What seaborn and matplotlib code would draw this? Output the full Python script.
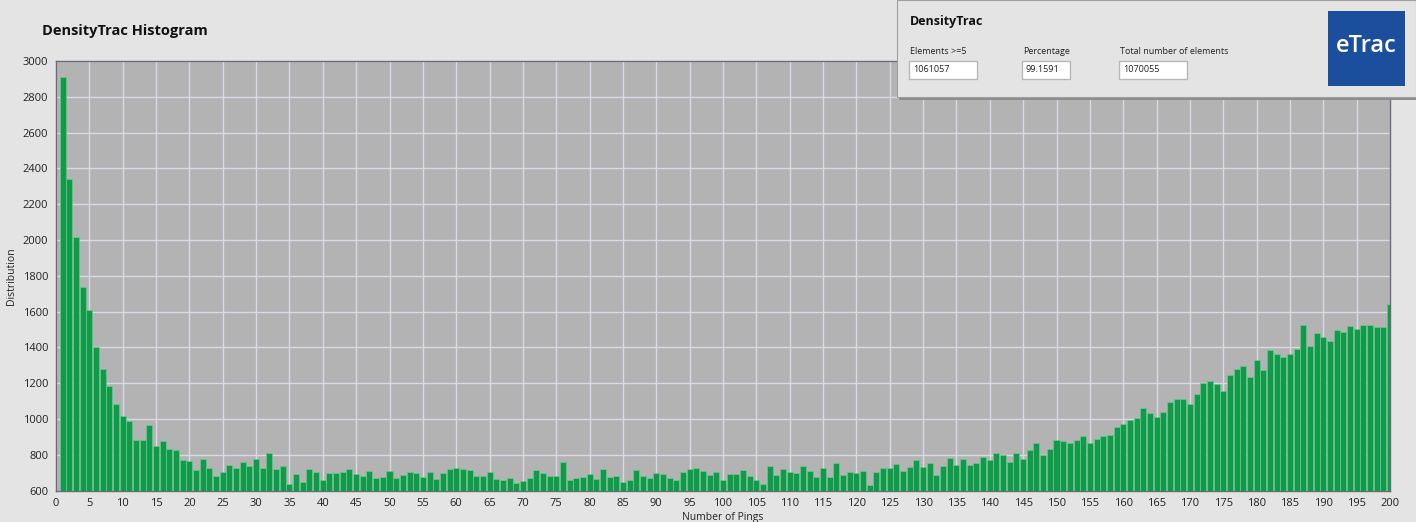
import matplotlib
matplotlib.use("Agg")
import matplotlib.pyplot as plt
from matplotlib.patches import Rectangle
import seaborn as sns
import numpy as np
import pandas as pd

# ---------------- data ----------------
pings = list(range(1, 201))
counts = [
    2910, 2341, 2015, 1740, 1611, 1404, 1280, 1183, 1082, 1017,
    991, 885, 885, 967, 851, 879, 831, 825, 769, 764,
    715, 779, 727, 680, 706, 741, 727, 760, 736, 775,
    727, 810, 721, 736, 639, 691, 650, 721, 706, 660,
    700, 697, 707, 721, 692, 680, 712, 669, 675, 712,
    669, 688, 703, 697, 675, 707, 665, 697, 721, 727,
    721, 716, 684, 684, 707, 665, 660, 671, 641, 654,
    669, 716, 697, 684, 684, 763, 660, 669, 679, 692,
    665, 721, 677, 680, 650, 660, 716, 680, 671, 699,
    693, 671, 660, 707, 721, 727, 712, 688, 707, 660,
    693, 693, 716, 680, 660, 636, 738, 688, 721, 707,
    699, 738, 712, 674, 725, 674, 755, 686, 706, 701,
    708, 630, 702, 725, 725, 747, 712, 730, 771, 730,
    753, 689, 736, 784, 742, 775, 745, 755, 786, 771,
    812, 801, 761, 810, 779, 825, 864, 799, 834, 885,
    879, 864, 881, 905, 864, 886, 905, 909, 955, 970,
    994, 1006, 1061, 1035, 1011, 1041, 1097, 1112, 1112, 1082,
    1140, 1201, 1214, 1197, 1158, 1244, 1279, 1294, 1234, 1331,
    1275, 1385, 1365, 1344, 1365, 1391, 1527, 1409, 1482, 1456,
    1435, 1497, 1486, 1521, 1501, 1527, 1527, 1512, 1515, 1642,
]
y_ticks = list(range(600, 3001, 200))
x_ticks = list(range(0, 201, 5))

title_text = "DensityTrac Histogram"
x_label = "Number of Pings"
y_label = "Distribution"

panel_title = "DensityTrac"
field_labels = ["Elements >=5", "Percentage", "Total number of elements"]
field_values = ["1061057", "99.1591", "1070055"]
logo_text = "eTrac"

# ---------------- style ----------------
sns.set_style("white")
plt.rcParams["font.family"] = ["Open Sans", "DejaVu Sans"]

W, H = 1416, 522
fig = plt.figure(figsize=(W / 100, H / 100), dpi=100)
fig.patch.set_facecolor("#e4e4e4")


def fx(px):
    return px / W


def fy(py):
    return 1 - py / H


# plot area in pixel coords
left, right, top, bottom = 56, 1390, 61, 490.7
ax = fig.add_axes([fx(left), fy(bottom), fx(right - left), (bottom - top) / H])
ax.set_facecolor("#b3b3b3")

df = pd.DataFrame({"pings": pings, "counts": counts})
sns.barplot(data=df, x="pings", y="counts", native_scale=True, width=0.9,
            color="#109a4a", saturation=1, edgecolor="#6cc98f", linewidth=0.5,
            ax=ax, zorder=3)

ax.set_xlim(0, 200)
ax.set_ylim(600, 3000)
ax.set_xticks(x_ticks)
ax.set_xticklabels([str(t) for t in x_ticks])
ax.set_yticks(y_ticks)
ax.set_yticklabels([str(t) for t in y_ticks])
ax.grid(True, color="#dadae6", linewidth=1.0, zorder=0)
ax.set_axisbelow(True)
for s in ax.spines.values():
    s.set_color("#6e6878")
    s.set_linewidth(1.0)
ax.tick_params(axis="both", direction="out", length=4, width=1,
               color="#555555", labelsize=8, labelcolor="#222222", pad=1.5)
ax.set_xlabel(x_label, fontsize=7.5, color="#222222", labelpad=2)
ax.set_ylabel(y_label, fontsize=7.5, color="#222222", labelpad=4)

fig.text(fx(42), fy(31), title_text, fontsize=10.5, fontweight="bold",
         color="#111111", ha="left", va="center")

# ---------------- info panel ----------------
fig.add_artist(Rectangle((fx(899), fy(100)), fx(W - 899), 100 / H,
                         transform=fig.transFigure, facecolor="#8c8c8c",
                         edgecolor="none", zorder=10))
fig.add_artist(Rectangle((fx(897), fy(97)), fx(W - 897), 97 / H,
                         transform=fig.transFigure, facecolor="#e4e4e4",
                         edgecolor="#a0a0a0", linewidth=0.8, zorder=11))
fig.text(fx(910), fy(22), panel_title, fontsize=9, fontweight="bold",
         color="#111111", ha="left", va="center", zorder=12)

label_x = [910, 1023, 1120]
box_w = [68, 48, 68]
for lx, lab, val, bw in zip(label_x, field_labels, field_values, box_w):
    fig.text(fx(lx), fy(51), lab, fontsize=6.5, color="#222222",
             ha="left", va="center", zorder=12)
    fig.add_artist(Rectangle((fx(lx - 1), fy(79)), fx(bw), 18 / H,
                             transform=fig.transFigure, facecolor="white",
                             edgecolor="#b8b8b8", linewidth=1.0, zorder=12))
    fig.text(fx(lx + 3), fy(70), val, fontsize=6.5, color="#222222",
             ha="left", va="center", zorder=13)

# logo
fig.add_artist(Rectangle((fx(1328), fy(86)), fx(77), 75 / H,
                         transform=fig.transFigure, facecolor="#1b4f9e",
                         edgecolor="none", zorder=12))
fig.text(fx(1366.5), fy(46), logo_text, fontsize=17, fontweight="semibold",
         color="white", ha="center", va="center", zorder=13)

fig.savefig("out.png", dpi=100, facecolor=fig.get_facecolor())
